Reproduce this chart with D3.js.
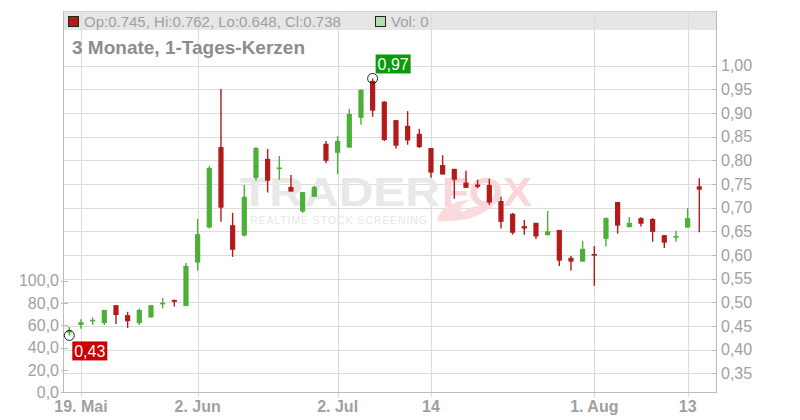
<!DOCTYPE html>
<html><head><meta charset="utf-8">
<script src="https://cdn.jsdelivr.net/npm/d3@7"></script>
<style>body{margin:0;background:#fff}svg{display:block;font-family:"Liberation Sans",Arial,sans-serif}</style>
</head><body><svg id="c" width="800" height="420"></svg>
<script>
const dates=["2025-05-16","2025-05-19","2025-05-20","2025-05-21","2025-05-22","2025-05-23","2025-05-26","2025-05-27","2025-05-28","2025-05-29","2025-05-30",
"2025-06-02","2025-06-03","2025-06-04","2025-06-05","2025-06-06","2025-06-10","2025-06-12","2025-06-16","2025-06-18","2025-06-20","2025-06-24","2025-06-27",
"2025-07-02","2025-07-03","2025-07-04","2025-07-07","2025-07-08","2025-07-09","2025-07-10","2025-07-11","2025-07-14","2025-07-15","2025-07-16","2025-07-17","2025-07-18",
"2025-07-21","2025-07-22","2025-07-23","2025-07-24","2025-07-25","2025-07-28","2025-07-29","2025-07-30","2025-07-31","2025-08-01",
"2025-08-04","2025-08-05","2025-08-06","2025-08-07","2025-08-08","2025-08-11","2025-08-12","2025-08-13","2025-08-14"];
const open =[.436,.452,.462,.456,.494,.473,.456,.468,.497,.505,.492,.584,.658,.828,.663,.641,.763,.803,.783,.744,.692,.723,.835,.816,.827,.890,.968,.924,.885,.873,.856,.826,.790,.782,.753,.749,.748,.714,.687,.661,.668,.642,.653,.594,.586,.602,.634,.712,.659,.678,.676,.642,.638,.658,.745];
const high =[.448,.464,.468,.484,.494,.480,.487,.494,.509,.506,.583,.676,.788,.951,.689,.748,.828,.824,.809,.769,.733,.746,.841,.851,.909,.950,.973,.925,.885,.904,.866,.826,.811,.782,.778,.759,.761,.723,.689,.674,.668,.693,.653,.598,.630,.619,.680,.712,.680,.680,.678,.642,.651,.699,.762];
const low  =[.430,.444,.452,.452,.454,.446,.452,.468,.487,.491,.492,.567,.656,.670,.596,.639,.757,.732,.759,.734,.689,.723,.794,.771,.827,.875,.892,.841,.825,.833,.826,.763,.770,.719,.742,.741,.706,.656,.643,.643,.634,.641,.577,.567,.586,.535,.618,.645,.658,.660,.628,.615,.628,.658,.648];
const close=[.440,.458,.463,.484,.473,.460,.484,.494,.499,.501,.577,.644,.784,.700,.611,.723,.826,.757,.785,.734,.733,.744,.799,.841,.898,.949,.905,.843,.831,.842,.828,.774,.770,.759,.742,.744,.711,.670,.647,.656,.639,.650,.588,.586,.613,.599,.678,.662,.668,.666,.649,.626,.640,.678,.738];
const xTickDates=["2025-05-19","2025-06-02","2025-07-02","2025-07-14","2025-08-01","2025-08-13"];
const xTickLabels=["19. Mai","2. Jun","2. Jul","14","1. Aug","13"];
const priceTicks=[0.35,0.40,0.45,0.50,0.55,0.60,0.65,0.70,0.75,0.80,0.85,0.90,0.95,1.00];
const volTicks=[0,20,40,60,80,100];
const title="3 Monate, 1-Tages-Kerzen";
const legendText="Op:0.745, Hi:0.762, Lo:0.648, Cl:0.738";
const volText="Vol: 0";

const L=63,R=716,T=11,B=392;
const UP="#4caf37",DN="#b31a1a";
const svg=d3.select("#c");
const x=d3.scalePoint().domain(dates).range([69.3,699.3]);
const y=d3.scaleLinear().domain([0.35,1.0]).range([373.3,65.7]);
const yv=d3.scaleLinear().domain([0,100]).range([392.3,280.7]);
const comma=f=>s=>d3.format(f)(s).replace(".",",");

// header band
svg.append("rect").attr("x",L).attr("y",T).attr("width",R-L).attr("height",19).attr("fill","#e6e6e6");
svg.append("line").attr("x1",L).attr("x2",R).attr("y1",T+0.5).attr("y2",T+0.5).attr("stroke","#cfcfcf");

// grid
svg.append("g").selectAll("line").data(priceTicks).join("line")
 .attr("x1",L).attr("x2",R).attr("y1",d=>Math.round(y(d))+0.5).attr("y2",d=>Math.round(y(d))+0.5)
 .attr("stroke","#dcdcdc").attr("stroke-width",1.2);
svg.append("g").selectAll("line").data(xTickDates).join("line")
 .attr("x1",d=>Math.round(x(d))+0.5).attr("x2",d=>Math.round(x(d))+0.5).attr("y1",T).attr("y2",B+5)
 .attr("stroke","#dcdcdc").attr("stroke-width",1.2);

// watermark
const wm=svg.append("g");
wm.append("text").attr("x",240).attr("y",205.5).attr("textLength",200).attr("lengthAdjust","spacingAndGlyphs")
 .attr("font-size",40).attr("font-weight","bold").attr("fill","#e8e8e8").text("TRADER");
wm.append("text").attr("x",442).attr("y",205.5).attr("textLength",90).attr("lengthAdjust","spacingAndGlyphs")
 .attr("font-size",40).attr("font-weight","bold").attr("fill","#fad6db").text("FOX");
wm.append("text").attr("x",250).attr("y",224).attr("textLength",177).attr("lengthAdjust","spacing")
 .attr("font-size",10.5).attr("fill","#e6e6e6").text("REALTIME STOCK SCREENING");
wm.append("path").attr("d","M437,221 C439,209 451,201 470,200 C462,204 458,208 462,212 C471,206 485,205 497,199 C490,213 470,223 437,221 Z")
 .attr("fill","#fbdadf");

// axes lines
svg.append("line").attr("x1",L+0.5).attr("x2",L+0.5).attr("y1",T).attr("y2",B).attr("stroke","#bbb");
svg.append("line").attr("x1",R+0.5).attr("x2",R+0.5).attr("y1",T).attr("y2",B).attr("stroke","#bbb");
svg.append("line").attr("x1",L).attr("x2",R+1).attr("y1",B+0.5).attr("y2",B+0.5).attr("stroke","#bbb");

// right axis
const ra=svg.append("g").attr("transform",`translate(${R+1},0)`)
 .call(d3.axisRight(y).tickValues(priceTicks).tickFormat(comma(".2f")).tickSize(0).tickPadding(4));
ra.select(".domain").remove();
ra.selectAll("text").attr("font-size",16).attr("fill","#a0a0a0").attr("font-family","Liberation Sans, Arial, sans-serif");
svg.append("g").selectAll("line").data(priceTicks).join("line")
 .attr("x1",R-4).attr("x2",R).attr("y1",d=>Math.round(y(d))+0.5).attr("y2",d=>Math.round(y(d))+0.5).attr("stroke","#bbb");

// left axis (volume)
const la=svg.append("g").attr("transform",`translate(${L},0)`)
 .call(d3.axisLeft(yv).tickValues(volTicks).tickFormat(comma(".1f")).tickSize(0).tickPadding(4));
la.select(".domain").remove();
la.selectAll("text").attr("font-size",16).attr("fill","#a0a0a0").attr("font-family","Liberation Sans, Arial, sans-serif");
svg.append("g").selectAll("line").data(volTicks).join("line")
 .attr("x1",L-2).attr("x2",L+5).attr("y1",d=>Math.round(yv(d))+0.5).attr("y2",d=>Math.round(yv(d))+0.5).attr("stroke","#bbb");

// bottom labels
svg.append("g").selectAll("text").data(xTickDates).join("text")
 .attr("x",d=>x(d)).attr("y",412).attr("text-anchor","middle").attr("font-size",16).attr("font-weight","bold")
 .attr("fill","#a0a0a0").text((d,i)=>xTickLabels[i]);

// candles
const idx=d3.range(dates.length);
const cg=svg.append("g");
cg.selectAll("line").data(idx).join("line")
 .attr("x1",i=>x(dates[i])).attr("x2",i=>x(dates[i]))
 .attr("y1",i=>y(high[i])).attr("y2",i=>y(low[i]))
 .attr("stroke",i=>close[i]>=open[i]?UP:DN).attr("stroke-width",1.4);
cg.selectAll("rect").data(idx).join("rect")
 .attr("x",i=>x(dates[i])-2.6).attr("width",5.2)
 .attr("y",i=>y(Math.max(open[i],close[i])))
 .attr("height",i=>Math.max(1.6,Math.abs(y(open[i])-y(close[i]))))
 .attr("fill",i=>close[i]>=open[i]?UP:DN);

// min / max markers
const iMax=d3.maxIndex(high), iMin=d3.minIndex(low);
const mk=[{i:iMax,v:high[iMax],col:"#0a9a0a",dy:-24},{i:iMin,v:low[iMin],col:"#cc0000",dy:6}];
mk.forEach(m=>{
 const cx=x(dates[m.i]), cy=y(m.v);
 svg.append("circle").attr("cx",cx).attr("cy",cy).attr("r",5).attr("fill","none").attr("stroke","#222").attr("stroke-width",1);
 svg.append("rect").attr("x",cx+3).attr("y",cy+m.dy).attr("width",35).attr("height",19).attr("fill",m.col);
 svg.append("text").attr("x",cx+20.5).attr("y",cy+m.dy+15.5).attr("text-anchor","middle").attr("font-size",16)
  .attr("fill","#fff").text(d3.format(".2f")(m.v).replace(".",","));
});

// header legend
svg.append("rect").attr("x",68.5).attr("y",16.5).attr("width",10).attr("height",10).attr("fill","#b31a1a").attr("stroke","#222");
svg.append("text").attr("x",84).attr("y",26.5).attr("font-size",15).attr("fill","#a0a0a0").text(legendText);
svg.append("rect").attr("x",375.5).attr("y",16.5).attr("width",10).attr("height",10).attr("fill","#b3deb3").attr("stroke","#222");
svg.append("text").attr("x",391).attr("y",26.5).attr("font-size",15).attr("fill","#a0a0a0").text(volText);
svg.append("text").attr("x",72).attr("y",54).attr("font-size",19).attr("font-weight","bold").attr("fill","#8c8c8c").text(title);
</script></body></html>
